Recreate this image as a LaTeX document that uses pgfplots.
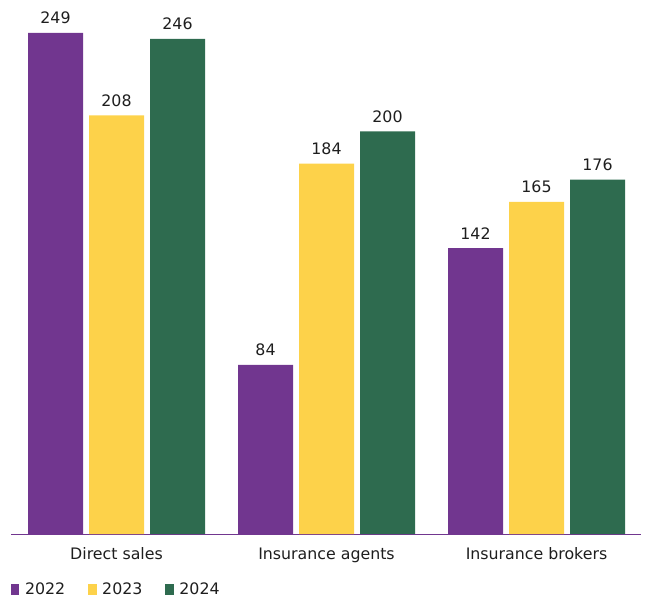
\documentclass[border=0pt]{standalone}
\usepackage{fontspec}
\setmainfont{DejaVu Sans}
\usepackage{pgfplots}
\pgfplotsset{compat=1.18}
\definecolor{cpurple}{HTML}{71368F}
\definecolor{cyellow}{HTML}{FDD24A}
\definecolor{cgreen}{HTML}{2E6B4F}
\definecolor{ctext}{HTML}{1E1E1E}
\begin{document}
\begin{tikzpicture}
\useasboundingbox (-11pt,-65pt) rectangle (636pt,534pt);
\begin{axis}[
  scale only axis,
  width=630pt, height=534pt,
  xmin=-0.5024, xmax=2.4976,
  ymin=0, ymax=265.3,
  enlargelimits=false,
  ybar=6pt, bar width=55pt,
  axis y line=none,
  axis x line=bottom,
  x axis line style={-, draw=cpurple, line width=1pt},
  xtick={0,1,2},
  xticklabels={Direct sales, Insurance agents, Insurance brokers},
  xtick style={draw=none},
  xticklabel shift=23pt,
  xticklabel style={anchor=base, inner sep=0pt, font=\fontsize{15.8}{18}\selectfont, text=ctext},
  nodes near coords,
  /pgf/number format/assume math mode=true,
  every node near coord/.append style={anchor=base, inner sep=0pt, yshift=9pt, font=\fontsize{15.8}{18}\selectfont, text=ctext},
  legend columns=3,
  legend style={at={(0,0)}, anchor=west, yshift=-55.5pt, draw=none, fill=none,
    inner sep=0pt, outer sep=0pt,
    nodes={inner sep=0pt, font=\fontsize{15.8}{18}\selectfont, text=ctext},
    column sep=5.7pt,
    /tikz/every even column/.append style={column sep=23pt}},
  legend image code/.code={\draw[#1, draw=none] (0pt,-5.5pt) rectangle (8.3pt,5.5pt);},
]
\addplot[fill=cpurple, draw=none] coordinates {(0,249) (1,84) (2,142)};
\addplot[fill=cyellow, draw=none] coordinates {(0,208) (1,184) (2,165)};
\addplot[fill=cgreen, draw=none] coordinates {(0,246) (1,200) (2,176)};
\legend{2022,2023,2024}
\end{axis}
\end{tikzpicture}
\end{document}
